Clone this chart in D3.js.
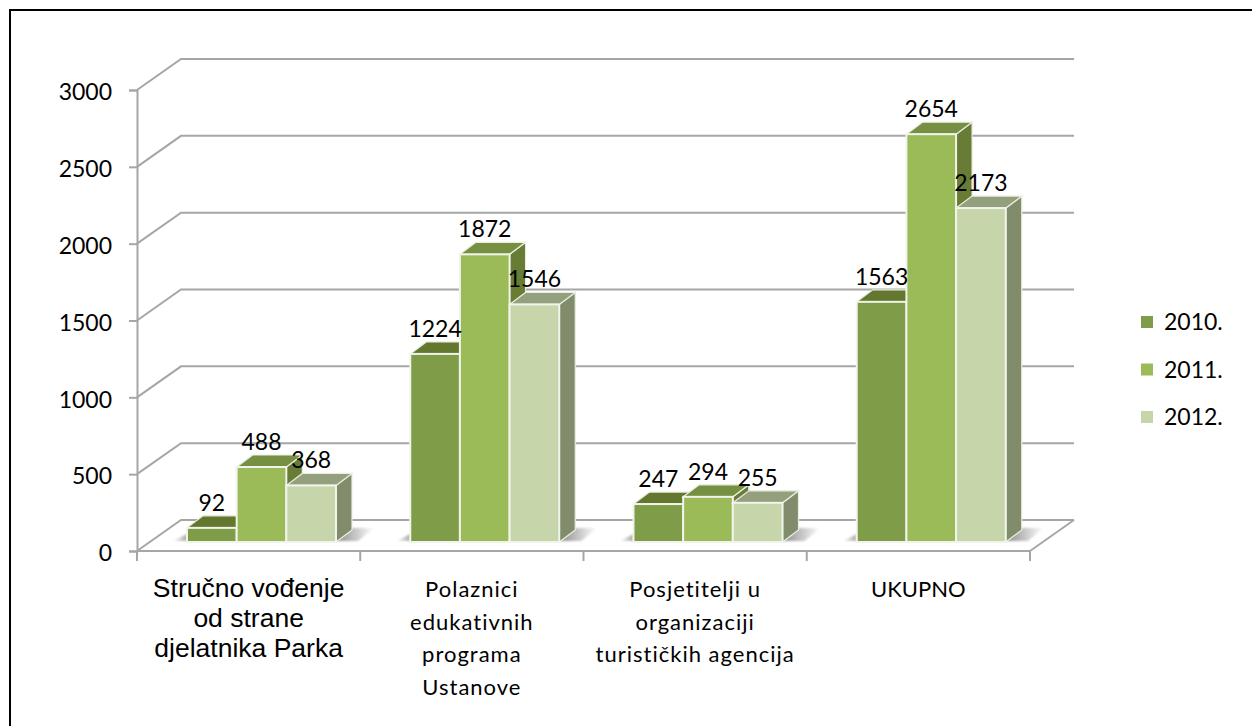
<!DOCTYPE html>
<html>
<head>
<meta charset="utf-8">
<script src="https://cdn.jsdelivr.net/npm/d3@7"></script>
<style>
  html, body { margin: 0; padding: 0; background: #fff; }
  svg { display: block; }
  text { fill: #000; font-family: "Lato", sans-serif; font-variant-ligatures: none; }
</style>
</head>
<body>
<svg id="chart"></svg>
<script>
const categories = ["Stručno vođenje od strane djelatnika Parka", "Polaznici edukativnih programa Ustanove", "Posjetitelji u organizaciji turističkih agencija", "UKUPNO"];
const categoryLines = [
  ["Stručno vođenje", "od strane", "djelatnika Parka"],
  ["Polaznici", "edukativnih", "programa", "Ustanove"],
  ["Posjetitelji u", "organizaciji", "turističkih agencija"],
  ["UKUPNO"]
];
const seriesNames = ["2010.", "2011.", "2012."];
const values2010 = [92, 1224, 247, 1563];
const values2011 = [488, 1872, 294, 2654];
const values2012 = [368, 1546, 255, 2173];
const yTicks = [0, 500, 1000, 1500, 2000, 2500, 3000];

const seriesValues = [values2010, values2011, values2012];
const fronts = ["#7f9c4a", "#9bbb59", "#c6d5aa"];
const tops = ["#64782f", "#768f42", "#949f7e"];
const sides = ["#62752f", "#677b36", "#808c6c"];

const width = 1252, height = 726;
const plot = { left: 137, right: 1030, top: 90, bottom: 551 };
const wall = { dx: 44, dy: -31 };     // back wall offset from the front axes
const depth = { dx: 16, dy: -12 };    // bar depth
const floorY = -9;                    // bars stand a bit behind the front edge

const svg = d3.select("#chart").attr("width", width).attr("height", height);

const defs = svg.append("defs");
defs.append("filter").attr("id", "soft").append("feGaussianBlur").attr("stdDeviation", 0.6);
defs.append("filter").attr("id", "softBar").append("feGaussianBlur").attr("stdDeviation", 0.4);
defs.append("filter").attr("id", "softShadow").append("feGaussianBlur").attr("stdDeviation", 1);
const shadowGrad = defs.append("linearGradient").attr("id", "shadowRight");
shadowGrad.append("stop").attr("offset", "0%").attr("stop-color", "#8c8c8c");
shadowGrad.append("stop").attr("offset", "100%").attr("stop-color", "#ffffff");
const shadowGradL = defs.append("linearGradient").attr("id", "shadowLeft");
shadowGradL.append("stop").attr("offset", "0%").attr("stop-color", "#ffffff");
shadowGradL.append("stop").attr("offset", "100%").attr("stop-color", "#a8a8a8");

// Scales
const x0 = d3.scaleBand().domain(categories).range([plot.left, plot.right]);
const x1 = d3.scaleBand().domain(seriesNames).range([50, 199]);
const y = d3.scaleLinear().domain([0, 3000]).range([plot.bottom, plot.top]);

// Frame, only top and left are visible
svg.append("path")
  .attr("d", `M10,${height}V10H${width}`)
  .attr("fill", "none")
  .attr("stroke", "#000")
  .attr("stroke-width", 2);

// Walls and grid
const grid = svg.append("g")
  .attr("fill", "none")
  .attr("stroke", "#a6a6a6")
  .attr("stroke-width", 2)
  .attr("filter", "url(#soft)");

grid.selectAll(".grid")
  .data(yTicks)
  .enter()
  .append("path")
  .attr("class", "grid")
  .attr("d", d => `M${plot.left},${y(d)}L${plot.left + wall.dx},${y(d) + wall.dy}H${plot.right + wall.dx}`);

grid.append("path")
  .attr("d", `M${plot.right + wall.dx},${y(0) + wall.dy}L${plot.right},${y(0)}`);

// Axes
const yAxis = svg.append("g")
  .attr("transform", `translate(${plot.left},0)`)
  .call(d3.axisLeft(y).tickValues(yTicks).tickFormat(d3.format("d")).tickSize(8).tickPadding(17));
yAxis.selectAll(".domain, .tick line").attr("stroke", "#a6a6a6").attr("stroke-width", 2);
yAxis.selectAll("text")
  .attr("font-size", 23)
  .attr("font-family", "Lato")
  .attr("fill", "#000")
  .attr("dy", "0.42em");

const axisX = svg.append("g").attr("stroke", "#a6a6a6").attr("stroke-width", 2);
axisX.append("line")
  .attr("x1", plot.left).attr("x2", plot.right)
  .attr("y1", y(0)).attr("y2", y(0));
axisX.selectAll(".xtick")
  .data(d3.range(categories.length + 1))
  .enter()
  .append("line")
  .attr("class", "xtick")
  .attr("x1", i => plot.left + i * x0.step())
  .attr("x2", i => plot.left + i * x0.step())
  .attr("y1", y(0))
  .attr("y2", y(0) + 10);

// Floor shadows, one per category
const shadowY = y(0) + floorY;
const groups = svg.selectAll(".cat")
  .data(categories)
  .enter()
  .append("g")
  .attr("class", "cat")
  .attr("transform", d => `translate(${x0(d)},0)`);

groups.append("path")
  .attr("d", `M${x1.range()[1]},${shadowY - 1}l${depth.dx},-13h22l-16,13z`)
  .attr("fill", "url(#shadowRight)")
  .attr("filter", "url(#softShadow)");
groups.append("path")
  .attr("d", `M${x1.range()[0]},${shadowY - 1}v-7l-14,7z`)
  .attr("fill", "url(#shadowLeft)")
  .attr("filter", "url(#softShadow)");

// Bars
seriesNames.forEach((name, s) => {
  const bars = groups.append("g")
    .datum((d, i) => seriesValues[s][i])
    .attr("filter", "url(#softBar)");

  const bx = x1(name);
  const bw = x1.bandwidth();
  const top = v => y(v) + floorY;

  bars.append("path")
    .attr("d", v => `M${bx + bw},${top(v)}l${depth.dx},${depth.dy}V${shadowY + depth.dy}l${-depth.dx},${-depth.dy}z`)
    .attr("fill", sides[s])
    .attr("stroke", "#e9eedf")
    .attr("stroke-width", 1.2);

  bars.append("path")
    .attr("d", v => `M${bx},${top(v)}l${depth.dx},${depth.dy}h${bw}l${-depth.dx},${-depth.dy}z`)
    .attr("fill", tops[s])
    .attr("stroke", "#e9eedf")
    .attr("stroke-width", 1.2);

  bars.append("rect")
    .attr("x", bx)
    .attr("y", v => top(v))
    .attr("width", bw)
    .attr("height", v => shadowY - top(v))
    .attr("fill", fronts[s])
    .attr("stroke", "#f1f4ea")
    .attr("stroke-width", 2);
});

// Value labels go above everything
seriesNames.forEach((name, s) => {
  svg.selectAll(".value" + s)
    .data(seriesValues[s])
    .enter()
    .append("text")
    .attr("class", "value" + s)
    .attr("x", (d, i) => x0(categories[i]) + x1(name) + x1.bandwidth() / 2)
    .attr("y", d => y(d) + floorY - 17)
    .attr("text-anchor", "middle")
    .attr("font-size", 23)
    .text(d => d);
});

// Category labels
const catLabels = svg.selectAll(".catlabel")
  .data(categories)
  .enter()
  .append("text")
  .attr("class", "catlabel")
  .attr("text-anchor", "middle")
  .attr("font-size", (d, i) => i === 0 ? 26.5 : 22)
  .attr("letter-spacing", (d, i) => i === 1 || i === 2 ? 1 : 0)
  .style("font-family", (d, i) => i === 0 ? '"Liberation Sans"' : '"Lato"');

catLabels.selectAll("tspan")
  .data((d, i) => categoryLines[i].map(line => ({ line, cat: d, i })))
  .enter()
  .append("tspan")
  .attr("x", d => x0(d.cat) + x0.bandwidth() / 2)
  .attr("y", (d, j) => 597 + j * (d.i === 0 ? 30 : 32.5))
  .text(d => d.line);

// Legend
const legend = svg.selectAll(".legend")
  .data(seriesNames)
  .enter()
  .append("g")
  .attr("class", "legend")
  .attr("transform", (d, i) => `translate(1141,${316 + i * 47.5})`);

legend.append("rect")
  .attr("width", 12)
  .attr("height", 12)
  .attr("fill", (d, i) => fronts[i]);

legend.append("text")
  .attr("x", 23)
  .attr("y", 14)
  .attr("font-size", 23)
  .text(d => d);
</script>
</body>
</html>
